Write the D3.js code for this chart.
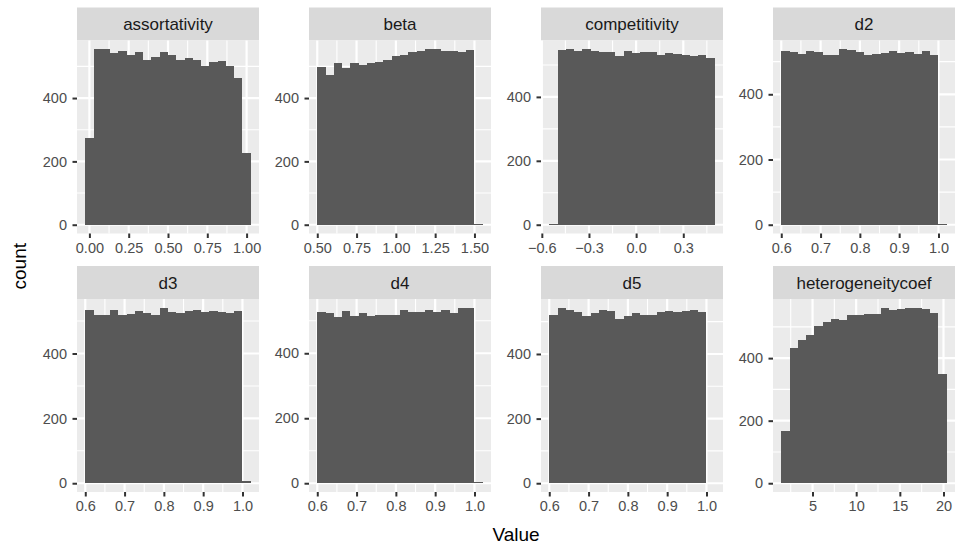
<!DOCTYPE html>
<html>
<head>
<meta charset="utf-8">
<script src="https://cdn.jsdelivr.net/npm/d3@7"></script>
<style>
  body { margin: 0; background: #fff; }
  text { font-family: "Liberation Sans", Arial, Helvetica, sans-serif; }
</style>
</head>
<body>
<div id="chart"></div>
<script>
// facet names, in ggplot's facet_wrap order
var facets = ["assortativity", "beta", "competitivity", "d2",
              "d3", "d4", "d5", "heterogeneitycoef"];

// left edge of the first bin and the bin width (20 bins per facet)
var binStart = [-0.0263, 0.5, -0.5526, 0.6, 0.6, 0.6, 0.6, 1.421];
var binWidth = [0.05263, 0.05263, 0.05263, 0.02105, 0.02105, 0.02105, 0.02105, 0.9474];

// counts
var assortativityCounts = [274, 554, 554, 543, 550, 536, 544, 519, 531, 544, 535, 520, 528, 520, 501, 513, 517, 500, 462, 228];
var betaCounts = [498, 473, 510, 495, 510, 504, 510, 513, 520, 532, 536, 545, 548, 554, 554, 548, 548, 545, 551, 3];
var competitivityCounts = [3, 547, 549, 544, 549, 543, 541, 540, 528, 543, 536, 539, 540, 530, 537, 534, 531, 528, 530, 521];
var d2Counts = [533, 530, 525, 533, 530, 520, 520, 538, 535, 530, 520, 524, 527, 533, 527, 530, 524, 533, 520, 3];
var d3Counts = [535, 519, 519, 535, 519, 522, 531, 524, 519, 541, 529, 526, 531, 533, 528, 530, 528, 524, 531, 6];
var d4Counts = [528, 523, 511, 531, 516, 524, 516, 518, 518, 519, 534, 528, 528, 533, 528, 533, 523, 540, 540, 3];
var d5Counts = [522, 543, 535, 529, 519, 527, 537, 533, 509, 519, 527, 522, 522, 531, 532, 529, 532, 537, 531, 2];
var heteroCounts = [166, 433, 457, 473, 502, 514, 524, 521, 539, 539, 542, 540, 561, 553, 558, 561, 561, 556, 545, 348];
var counts = [assortativityCounts, betaCounts, competitivityCounts, d2Counts,
              d3Counts, d4Counts, d5Counts, heteroCounts];

// x tick values and labels per facet
var xTickValues = [
  [0, 0.25, 0.5, 0.75, 1],
  [0.5, 0.75, 1, 1.25, 1.5],
  [-0.6, -0.3, 0, 0.3],
  [0.6, 0.7, 0.8, 0.9, 1],
  [0.6, 0.7, 0.8, 0.9, 1],
  [0.6, 0.7, 0.8, 0.9, 1],
  [0.6, 0.7, 0.8, 0.9, 1],
  [5, 10, 15, 20]
];
var xTickLabels = [
  ["0.00", "0.25", "0.50", "0.75", "1.00"],
  ["0.50", "0.75", "1.00", "1.25", "1.50"],
  ["\u22120.6", "\u22120.3", "0.0", "0.3"],
  ["0.6", "0.7", "0.8", "0.9", "1.0"],
  ["0.6", "0.7", "0.8", "0.9", "1.0"],
  ["0.6", "0.7", "0.8", "0.9", "1.0"],
  ["0.6", "0.7", "0.8", "0.9", "1.0"],
  ["5", "10", "15", "20"]
];
var yTickValues = [0, 200, 400];
var yTickLabels = ["0", "200", "400"];

// layout
var W = 969, H = 546;
var left0 = 77, panelW = 182, gapX = 50;
var rowTop = [7.5, 266], stripH = 33, panelH = 193;

var svg = d3.select("#chart").append("svg")
  .attr("width", W)
  .attr("height", H);

// minor breaks halfway between majors, including one step past each end
function minorBreaks(major) {
  var step = major[1] - major[0], out = [];
  out.push(major[0] - step / 2);
  for (var i = 0; i < major.length; i++) out.push(major[i] + step / 2);
  return out;
}

facets.forEach(function(name, f) {
  var col = f % 4, row = Math.floor(f / 4);
  var px = left0 + col * (panelW + gapX);
  var sy = rowTop[row];
  var py = sy + stripH;

  var c = counts[f];
  var x0 = binStart[f], bw = binWidth[f];
  var x1 = x0 + bw * c.length;
  var r = x1 - x0;
  var x = d3.scaleLinear().domain([x0 - 0.05 * r, x1 + 0.05 * r]).range([0, panelW]);
  var M = d3.max(c);
  var y = d3.scaleLinear().domain([-0.05 * M, 1.05 * M]).range([panelH, 0]);

  // strip
  svg.append("rect")
    .attr("x", px).attr("y", sy)
    .attr("width", panelW).attr("height", stripH)
    .attr("fill", "#D9D9D9");
  svg.append("text")
    .attr("x", px + panelW / 2)
    .attr("y", sy + stripH / 2 + 6)
    .attr("text-anchor", "middle")
    .style("font-size", "17px")
    .style("fill", "#1A1A1A")
    .text(name);

  var g = svg.append("g").attr("transform", "translate(" + px + "," + py + ")");

  g.append("rect")
    .attr("width", panelW).attr("height", panelH)
    .attr("fill", "#EBEBEB");

  var xd = x.domain(), yd = y.domain();
  var xMinor = minorBreaks(xTickValues[f]).filter(function(v) { return v > xd[0] && v < xd[1]; });
  var yMinor = minorBreaks(yTickValues).filter(function(v) { return v > yd[0] && v < yd[1]; });

  // grid
  g.selectAll(".xminor").data(xMinor).enter().append("line")
    .attr("x1", function(d) { return x(d); }).attr("x2", function(d) { return x(d); })
    .attr("y1", 0).attr("y2", panelH)
    .attr("stroke", "#fff").attr("stroke-width", 1.1);
  g.selectAll(".yminor").data(yMinor).enter().append("line")
    .attr("y1", function(d) { return y(d); }).attr("y2", function(d) { return y(d); })
    .attr("x1", 0).attr("x2", panelW)
    .attr("stroke", "#fff").attr("stroke-width", 1.1);
  g.selectAll(".xmajor").data(xTickValues[f]).enter().append("line")
    .attr("x1", function(d) { return x(d); }).attr("x2", function(d) { return x(d); })
    .attr("y1", 0).attr("y2", panelH)
    .attr("stroke", "#fff").attr("stroke-width", 2.2);
  g.selectAll(".ymajor").data(yTickValues).enter().append("line")
    .attr("y1", function(d) { return y(d); }).attr("y2", function(d) { return y(d); })
    .attr("x1", 0).attr("x2", panelW)
    .attr("stroke", "#fff").attr("stroke-width", 2.2);

  // bars
  g.selectAll(".bar").data(c).enter().append("rect")
    .attr("x", function(d, i) { return x(x0 + i * bw); })
    .attr("width", function(d, i) { return x(x0 + (i + 1) * bw) - x(x0 + i * bw); })
    .attr("y", function(d) { return y(d); })
    .attr("height", function(d) { return y(0) - y(d); })
    .attr("fill", "#595959")
    .attr("shape-rendering", "crispEdges");

  // axes
  var xAxis = d3.axisBottom(x)
    .tickValues(xTickValues[f])
    .tickFormat(function(d, i) { return xTickLabels[f][i]; })
    .tickSize(4.5).tickPadding(4.5);
  var ax = g.append("g").attr("transform", "translate(0," + panelH + ")").call(xAxis);

  var yAxis = d3.axisLeft(y)
    .tickValues(yTickValues)
    .tickFormat(function(d, i) { return yTickLabels[i]; })
    .tickSize(4.5).tickPadding(5.5);
  var ay = g.append("g").call(yAxis);

  [ax, ay].forEach(function(a) {
    a.select(".domain").remove();
    a.selectAll("line").attr("stroke", "#333333").attr("stroke-width", 2);
    a.selectAll("text")
      .style("font-size", "14.5px")
      .style("fill", "#4D4D4D")
      .style("font-family", '"Liberation Sans", Arial, Helvetica, sans-serif');
  });
});

// axis titles
svg.append("text")
  .attr("x", left0 + (4 * panelW + 3 * gapX) / 2)
  .attr("y", 541)
  .attr("text-anchor", "middle")
  .style("font-size", "19px")
  .text("Value");

svg.append("text")
  .attr("transform", "translate(26," + ((rowTop[0] + stripH + rowTop[1] + stripH + panelH) / 2) + ") rotate(-90)")
  .attr("text-anchor", "middle")
  .style("font-size", "19px")
  .text("count");
</script>
</body>
</html>
